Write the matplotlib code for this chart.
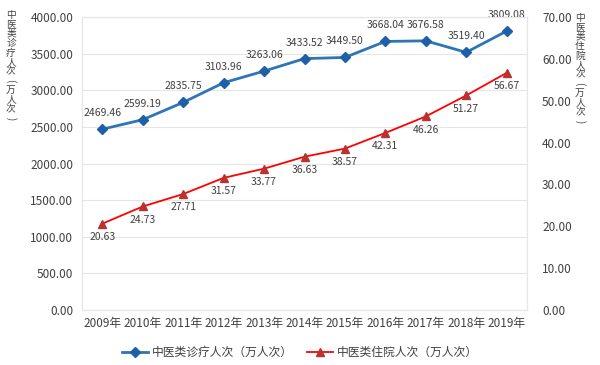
import matplotlib
matplotlib.use("Agg")
import matplotlib.pyplot as plt

plt.rcParams["font.family"] = ["Noto Sans CJK SC", "DejaVu Sans"]

# Chart data
years = ["2009年", "2010年", "2011年", "2012年", "2013年", "2014年",
         "2015年", "2016年", "2017年", "2018年", "2019年"]
visits = [2469.46, 2599.19, 2835.75, 3103.96, 3263.06, 3433.52,
          3449.50, 3668.04, 3676.58, 3519.40, 3809.08]
inpatients = [20.63, 24.73, 27.71, 31.57, 33.77, 36.63,
              38.57, 42.31, 46.26, 51.27, 56.67]
left_ticks = [0, 500, 1000, 1500, 2000, 2500, 3000, 3500, 4000]
right_ticks = [0, 10, 20, 30, 40, 50, 60, 70]
visits_name = "中医类诊疗人次（万人次）"
inpatients_name = "中医类住院人次（万人次）"

text_color = "#404040"
grid_color = "#e6e6e6"

W, H = 600, 365
fig = plt.figure(figsize=(W / 100, H / 100), dpi=100)
ax = fig.add_axes([0.137, 0.151, 0.741, 0.802])
ax2 = ax.twinx()

x = list(range(len(years)))

l1, = ax.plot(x, visits, color="#2e75b6", lw=2, marker="D", ms=5,
              mfc="#1f5fa8", mec="#1f5fa8", label=visits_name, zorder=3)
l2, = ax2.plot(x, inpatients, color="#ff0000", lw=1.3, marker="^", ms=6,
               mfc="#b83232", mec="#b83232", label=inpatients_name, zorder=3)

for xi, v in zip(x, visits):
    ax.annotate(f"{v:.2f}", (xi, v), xytext=(0, 8), textcoords="offset points",
                ha="center", va="bottom", fontsize=7.5, color=text_color)
for xi, v in zip(x, inpatients):
    ax2.annotate(f"{v:.2f}", (xi, v), xytext=(0, -6), textcoords="offset points",
                 ha="center", va="top", fontsize=7.5, color=text_color)

ax.set_xlim(-0.5, len(years) - 0.5)
ax.set_ylim(0, 4000)
ax2.set_ylim(0, 70)
ax.set_yticks(left_ticks)
ax.set_yticklabels([f"{t:.2f}" for t in left_ticks])
ax2.set_yticks(right_ticks)
ax2.set_yticklabels([f"{t:.2f}" for t in right_ticks])
ax.set_xticks(x)
ax.set_xticklabels(years)

ax.grid(axis="y", color=grid_color, lw=0.8)
ax.set_axisbelow(True)
for a in (ax, ax2):
    for s in a.spines.values():
        s.set_color(grid_color)
    a.tick_params(length=0, labelsize=8.5, colors=text_color)
ax.tick_params(axis="y", pad=6.5)
ax2.tick_params(axis="y", pad=11)
ax.tick_params(axis="x", pad=5)


# Vertical axis titles, one character per row (brackets turned sideways)
def vert_title(name, x_px, y0_px, step=9.4):
    for i, ch in enumerate(name):
        rot = 0
        if ch in "（）":
            ch = "(" if ch == "（" else ")"
            rot = -90
        fig.text(x_px / W, 1 - (y0_px + i * step) / H, ch, ha="center",
                 va="center", fontsize=7, color=text_color, rotation=rot)


vert_title(visits_name, 11, 15)
vert_title(inpatients_name, 580, 18)

fig.legend(handles=[l1, l2], loc="center", bbox_to_anchor=(0.5, 0.035),
           ncol=2, frameon=False, fontsize=8.5, handlelength=2.2,
           columnspacing=1.2, handletextpad=0.3, labelcolor=text_color)

fig.savefig("out.png", dpi=100)
